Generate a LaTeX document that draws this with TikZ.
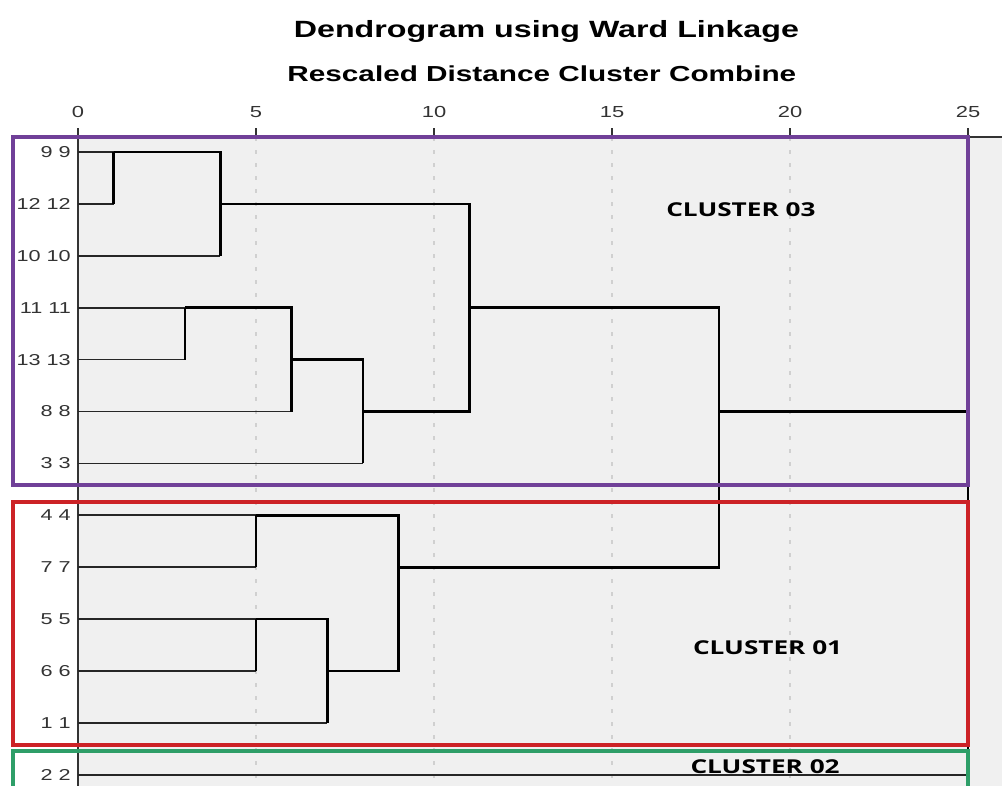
\documentclass[tikz,border=0pt]{standalone}
\usepackage{fontspec}
\setmainfont[FakeStretch=1.37]{Liberation Sans}
\newfontfamily\tagfont[FakeStretch=1.37]{Open Sans}
\usetikzlibrary{positioning}

\definecolor{plotgrey}{RGB}{240,240,240}
\definecolor{gridgrey}{RGB}{208,208,208}
\definecolor{boxpurple}{RGB}{112,64,152}
\definecolor{boxred}{RGB}{204,34,38}
\definecolor{boxgreen}{RGB}{46,158,104}

\begin{document}
\begin{tikzpicture}[x=35.6pt,y=-51.9pt,
  leafline/.style={line width=1.7pt,black!85},
  joinline/.style={line width=2.6pt,black},
  axisline/.style={line width=1.3pt,black!80},
  gridline/.style={line width=1.8pt,gridgrey,dash pattern=on 4pt off 9pt},
  clusterbox/.style={line width=3.4pt},
  leaflab/.style={inner sep=0pt,font=\fontsize{15.8}{18}\selectfont,black!80},
  ticklab/.style={inner sep=0pt,anchor=base,font=\fontsize{16}{18}\selectfont,black!80},
  tag/.style={inner sep=0pt,anchor=base,font=\tagfont\bfseries\fontsize{19.1}{22}\selectfont}]
\useasboundingbox (-2.191,-2.929) rectangle (25.955,12.197);

% plot area, grid and axes
\fill[plotgrey] (0,-0.289) rectangle (25.955,12.4);
\foreach \d in {5,10,15,20}
  \draw[gridline] (\d,-0.289) -- (\d,12.4);
\draw[axisline] (0,-0.289) -- (25.955,-0.289);
\draw[axisline] (0,-0.289) -- (0,12.4);
\foreach \d in {0,5,...,25} {
  \draw[axisline] (\d,-0.462) -- (\d,-0.289);
  \node[ticklab] (x\d) at (\d,-0.674) {\d};
}

% titles
\node[anchor=base,inner sep=0pt,font=\bfseries\fontsize{23.5}{28}\selectfont] (title) at (13.157,-2.216) {Dendrogram using Ward Linkage};
\node[anchor=base,inner sep=0pt,font=\bfseries\fontsize{21.7}{26}\selectfont] (subtitle) at (13.03,-1.368) {Rescaled Distance Cluster Combine};

% cases
\foreach \id/\r in {9/0,12/1,10/2,11/3,13/4,8/5,3/6,4/7,7/8,5/9,6/10,1/11,2/12} {
  \coordinate (n\id) at (0,\r);
  \node[leaflab,left=7pt of n\id] (t\id) {\id\ \id};
}

% joins: (distance, row of the joined line)
\coordinate (j1) at (1,0);   % 9 + 12
\coordinate (j2) at (4,1);   % j1 + 10
\coordinate (j3) at (3,3);   % 11 + 13
\coordinate (j4) at (6,4);   % j3 + 8
\coordinate (j5) at (8,5);   % j4 + 3
\coordinate (j6) at (11,3);  % j2 + j5
\coordinate (j7) at (5,7);   % 4 + 7
\coordinate (j8) at (5,9);   % 5 + 6
\coordinate (j9) at (7,10);  % j8 + 1
\coordinate (j10) at (9,8);  % j7 + j9
\coordinate (j11) at (18,5); % j6 + j10
\coordinate (j12) at (25,5); % j11 + 2

\foreach \id/\j in {9/j1,12/j1,10/j2,11/j3,13/j3,8/j4,3/j5,4/j7,7/j7,5/j8,6/j8,1/j9,2/j12}
  \draw[leafline] (n\id) -- (n\id -| \j);

\draw[joinline] (n9 -| j1) -- (n12 -| j1);
\draw[joinline] (j1) -| (j2) |- (n10 -| j2);
\draw[joinline] (n11 -| j3) -- (n13 -| j3);
\draw[joinline] (j3) -| (j4) |- (n8 -| j4);
\draw[joinline] (j4) -| (j5) |- (n3 -| j5);
\draw[joinline] (j2) -| (j6) |- (j5);
\draw[joinline] (n4 -| j7) -- (n7 -| j7);
\draw[joinline] (n5 -| j8) -- (n6 -| j8);
\draw[joinline] (j8) -| (j9) |- (n1 -| j9);
\draw[joinline] (j7) -| (j10) |- (j9);
\draw[joinline] (j6) -| (j11) |- (j10);
\draw[joinline] (j11) -| (j12) |- (n2 -| j12);

% cluster boxes
\draw[clusterbox,boxpurple] (-1.826,-0.289) rectangle (25,6.416);
\draw[clusterbox,boxred] (-1.826,6.744) rectangle (25,11.426);
\draw[clusterbox,boxgreen] (-1.826,11.54) rectangle (25,12.6);

\node[tag] (c03) at (18.62,1.252) {CLUSTER 03};
\node[tag] (c01) at (19.37,9.674) {CLUSTER 01};
\node[tag] (c02) at (19.30,11.965) {CLUSTER 02};
\end{tikzpicture}
\end{document}
